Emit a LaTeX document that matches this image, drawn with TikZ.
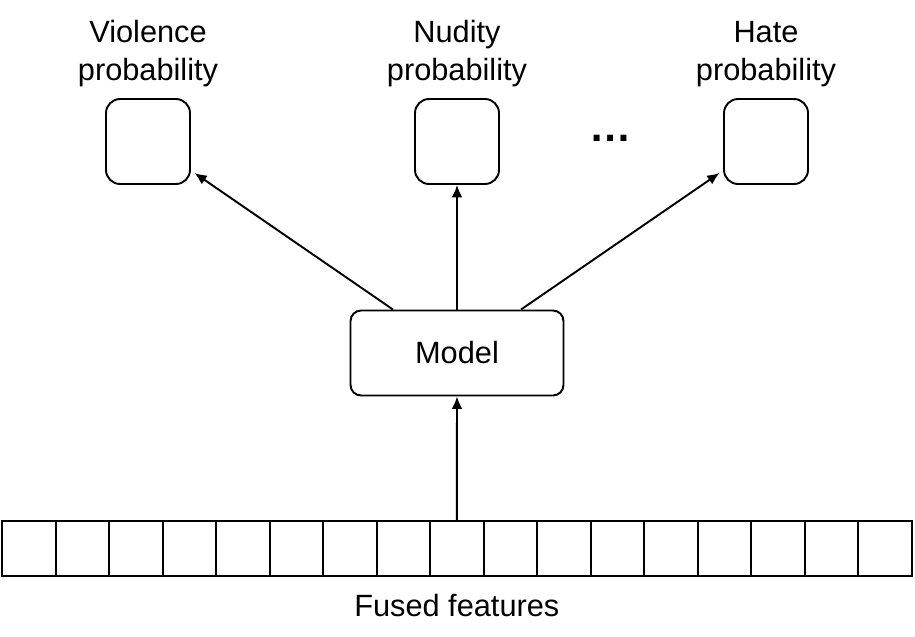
\documentclass[tikz,border=0pt]{standalone}
\usepackage{fontspec}
\setmainfont{Liberation Sans}
\usetikzlibrary{positioning, arrows.meta}

\tikzset{
	probbox/.style={draw, line width=1.1pt, rounded corners=8pt, minimum width=1.68cm, minimum height=1.7cm, inner sep=0pt},
	cell/.style={draw, line width=1.1pt, minimum width=1.07cm, minimum height=1.1cm, inner sep=0pt},
	lbl/.style={align=center, font=\fontsize{17.5}{21.5}\selectfont},
	arr/.style={line width=1.1pt, arrows={-{Latex[length=7pt,width=6pt]}}}
}

\begin{document}
\begin{tikzpicture}[x=0.02cm, y=-0.02cm]
	\useasboundingbox (0,0) rectangle (915,636);
	% output boxes
	\node [probbox] (viol) at (148,141.5) {};
	\node [probbox] (nud) at (457,141.5) {};
	\node [probbox] (hate) at (766,141.5) {};
	\node [lbl, above=3pt of viol] {Violence\\probability};
	\node [lbl, above=3pt of nud] {Nudity\\probability};
	\node [lbl, above=3pt of hate] {Hate\\probability};
	\node [lbl, font=\fontsize{24}{24}\selectfont\bfseries] (dots) at (611,138) {\dots};
	% model
	\node [draw, line width=1.1pt, rounded corners=6pt, minimum width=4.26cm, minimum height=1.7cm, lbl] (model) at (457,353) {Model};
	% fused features
	\foreach \i in {0,...,16}
		\node [cell] (c\i) at (28.8+53.5*\i,548.5) {};
	\node [lbl, below=6pt of c8] {Fused features};
	% arrows
	\draw [arr] ([xshift=-1.28cm]model.north) -- ([xshift=2pt,yshift=0.24cm]viol.south east);
	\draw [arr] (model.north) -- (nud.south);
	\draw [arr] ([xshift=1.28cm]model.north) -- ([xshift=-2pt,yshift=0.24cm]hate.south west);
	\draw [arr] (c8.north) -- (model.south);
\end{tikzpicture}
\end{document}
